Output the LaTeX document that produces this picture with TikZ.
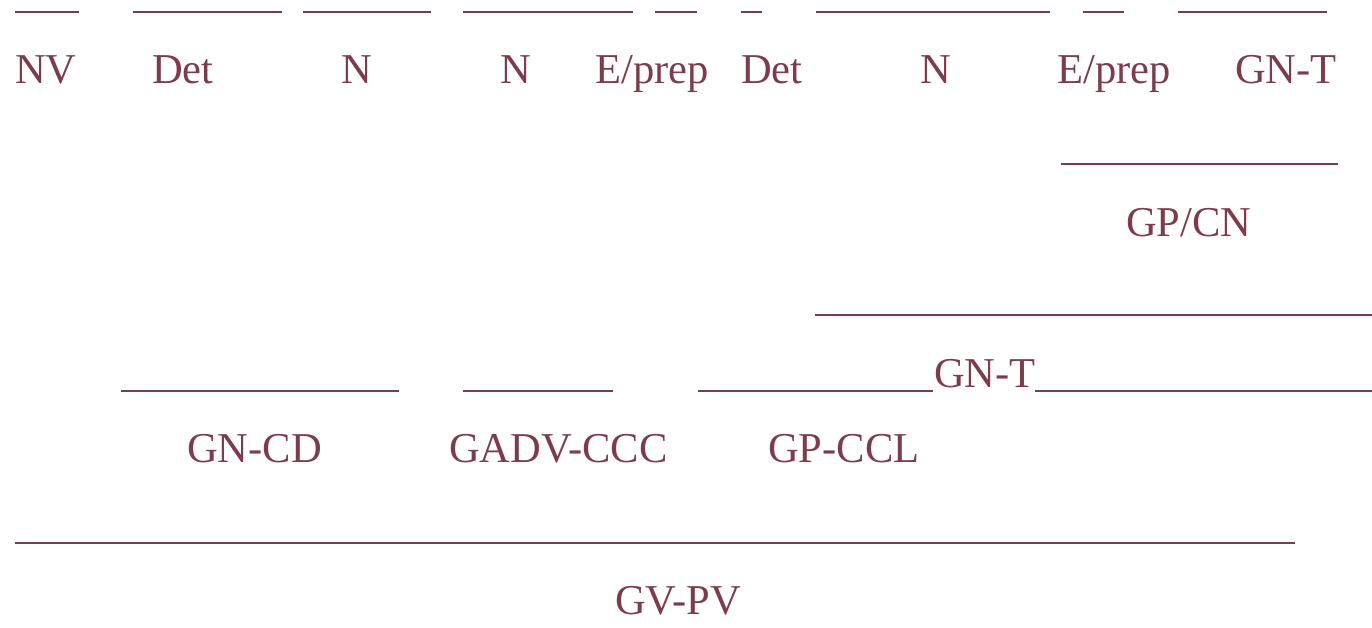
\documentclass[tikz,border=0pt]{standalone}
\usepackage{fontspec}
\setmainfont{Liberation Serif}
\usepackage{tikz}
\definecolor{tagred}{RGB}{125,60,76}

\begin{document}
\begin{tikzpicture}[
  x=0.75pt, y=-0.75pt,
  tag/.style={anchor=base west, inner sep=0pt, text=tagred, font=\fontsize{31.9}{38}\selectfont},
  rule/.style={draw=tagred, line width=1.5pt}
]
\useasboundingbox (0,0) rectangle (1372,628);

% row 1: words
\node[tag] (nv)    at (15,83)   {NV};
\node[tag] (det1)  at (152,83)  {Det};
\node[tag] (n1)    at (341,83)  {N};
\node[tag] (n2)    at (500,83)  {N};
\node[tag] (prep1) at (595,83)  {E/prep};
\node[tag] (det2)  at (741,83)  {Det};
\node[tag] (n3)    at (920,83)  {N};
\node[tag] (prep2) at (1057,83) {E/prep};
\node[tag] (gnt1)  at (1235,83) {GN-T};

% higher levels
\node[tag] (gpcn)  at (1126,236) {GP/CN};
\node[tag] (gnt2)  at (934,387)  {GN-T};
\node[tag] (gncd)  at (187,462)  {GN-CD};
\node[tag] (gadv)  at (449,462)  {GADV-CCC};
\node[tag] (gpccl) at (768,462)  {GP-CCL};
\node[tag] (gvpv)  at (615,614)  {GV-PV};

% underlines
\foreach \a/\b/\y in {15/79/12, 133/282/12, 303/431/12, 463/633/12, 655/697/12,
    741/762/12, 816/1050/12, 1083/1124/12, 1178/1327/12,
    1061/1338/164, 815/1372/315,
    121/399/391, 463/613/391, 698/933/391, 1035/1372/391,
    15/1295/543} {
  \draw[rule] (\a,\y) -- (\b,\y);
}

\end{tikzpicture}
\end{document}
